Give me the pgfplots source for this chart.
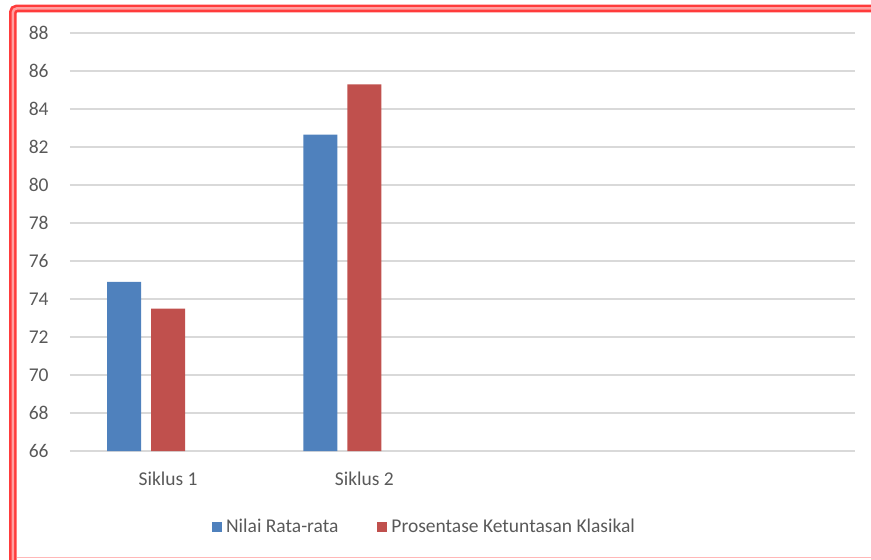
\documentclass[border=0pt]{standalone}
\usepackage{pgfplots}
\pgfplotsset{compat=1.18}
\usepackage{fontspec}
\setmainfont{Carlito}

\definecolor{barblue}{HTML}{4F81BD}
\definecolor{barred}{HTML}{C0504D}
\definecolor{gridgray}{HTML}{D9D9D9}
\definecolor{txtgray}{HTML}{595959}
\definecolor{frame}{HTML}{FF3B3B}
\definecolor{framemid}{HTML}{FFA0A0}
\definecolor{framebot}{HTML}{FFB8B8}

\begin{document}
\begin{tikzpicture}
% page = 871x559 px, 1 px = 0.5pt
\useasboundingbox (0,0) rectangle (435.5pt,279.5pt);

% red double frame (left and top), thin pink bottom line
\draw[frame, line width=1.3pt, double=framemid, double distance=1.25pt, rounded corners=2pt]
  (6.43pt,-5pt) -- (6.43pt,275.3pt) -- (440pt,275.3pt);
\draw[framebot, line width=0.5pt] (8.5pt,0.75pt) -- (436pt,0.75pt);

\begin{axis}[
  at={(35pt,54pt)}, anchor=south west,
  scale only axis,
  width=392.5pt, height=209pt,
  ybar,
  bar width=17pt,
  xmin=-0.5, xmax=3.5,
  ymin=66, ymax=88,
  ytick={66,68,...,88},
  xtick={0,1},
  xticklabels={Siklus 1, Siklus 2},
  ymajorgrids,
  grid style={gridgray, line width=0.65pt},
  axis line style={draw=none},
  tick style={draw=none},
  major tick length=0pt,
  /pgf/number format/assume math mode=true,
  tick label style={font=\fontsize{9.75}{11}\selectfont, text=txtgray},
  yticklabel style={anchor=east, inner sep=0pt, xshift=-10.5pt},
  xticklabel style={anchor=base, inner sep=0pt, yshift=-17pt},
  legend columns=2,
  legend style={
    at={(rel axis cs:0.4529,-0.1818)}, anchor=center,
    draw=none, fill=none,
    font=\fontsize{9.75}{11}\selectfont, text=txtgray,
    /tikz/every even column/.append style={column sep=17.5pt},
  },
  legend image code/.code={
    \fill[#1] (0pt,-2.5pt) rectangle (5pt,2.5pt);
  },
  legend cell align=left,
]
\addplot[fill=barblue, draw=none, bar shift=-22pt] coordinates {(0,74.9) (1,82.65)};
\addplot[fill=barred, draw=none, bar shift=0pt] coordinates {(0,73.5) (1,85.3)};
\legend{Nilai Rata-rata, Prosentase Ketuntasan Klasikal}
\end{axis}
\end{tikzpicture}
\end{document}
